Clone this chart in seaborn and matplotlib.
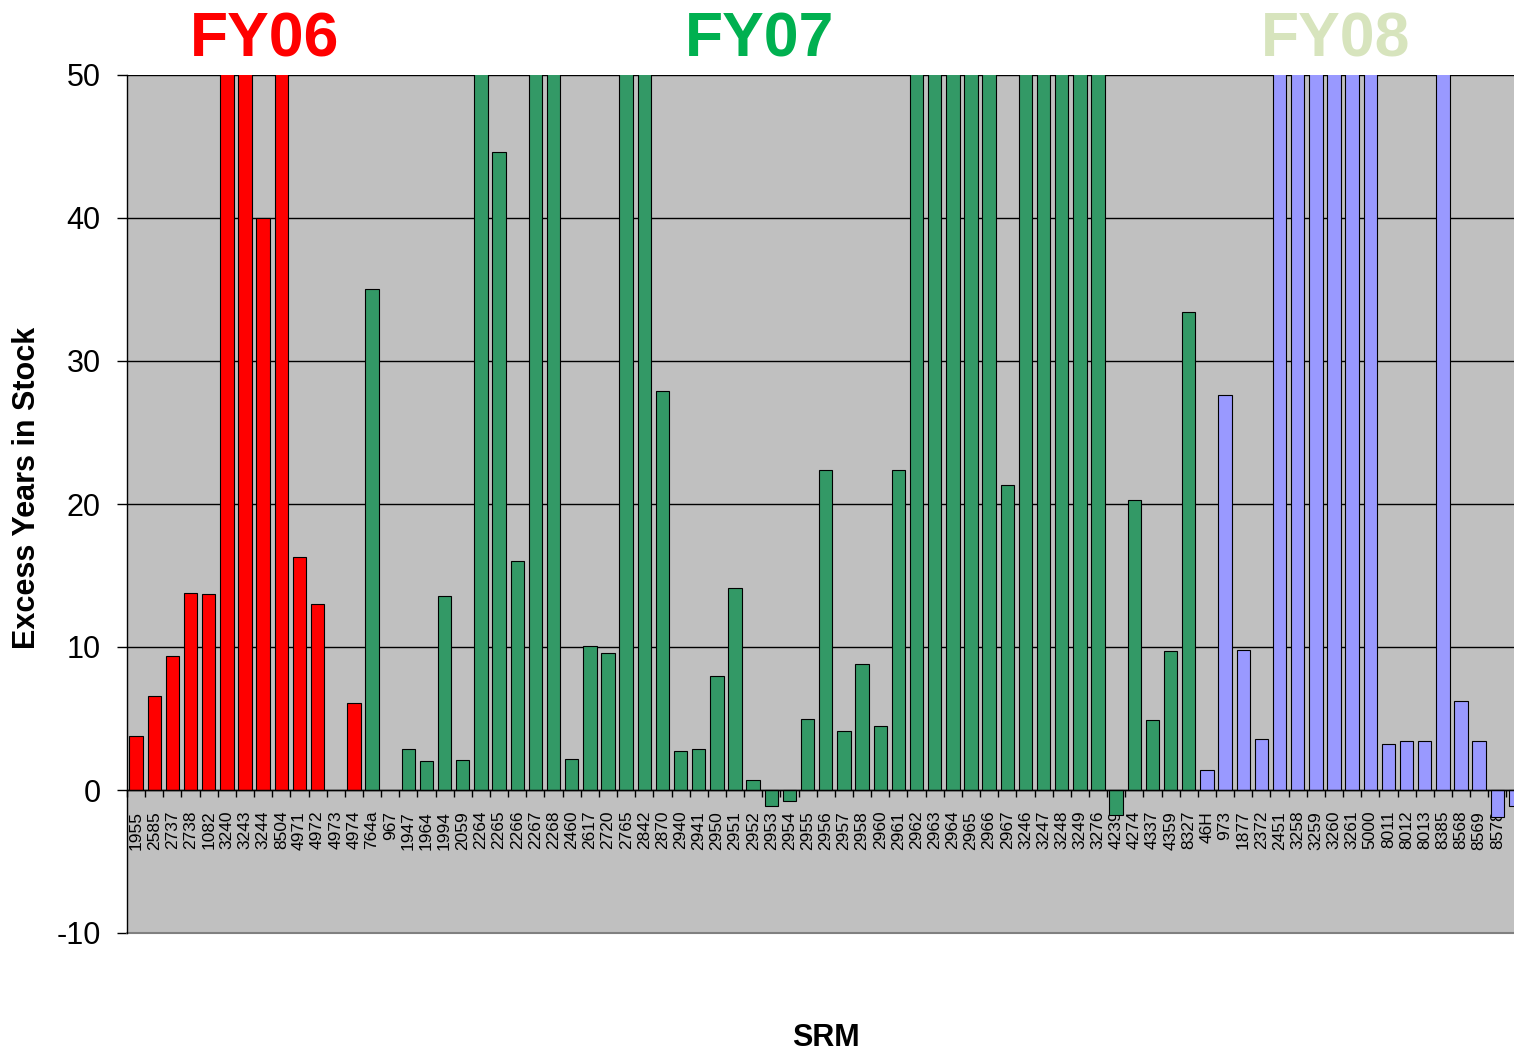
import numpy as np
import pandas as pd
import matplotlib
matplotlib.use("Agg")
import matplotlib.pyplot as plt
import seaborn as sns

sns.set_theme(style="white")
plt.rcParams['font.family'] = ['Liberation Sans', 'DejaVu Sans']
plt.rcParams['axes.unicode_minus'] = False
plt.rcParams['text.color'] = 'black'
plt.rcParams['axes.labelcolor'] = 'black'
plt.rcParams['xtick.color'] = 'black'
plt.rcParams['ytick.color'] = 'black'

# Values above 50 run off the top of the axis; 55 stands for "off scale".
fy06_srm = ["1955", "2585", "2737", "2738", "1082", "3240", "3243", "3244",
            "8504", "4971", "4972", "4973", "4974"]
fy06_val = [3.8, 6.6, 9.4, 13.8, 13.7, 55, 55, 40.0, 55, 16.3, 13.0, np.nan, 6.1]

fy07_srm = ["764a", "967", "1947", "1964", "1994", "2059", "2264", "2265", "2266",
            "2267", "2268", "2460", "2617", "2720", "2765", "2842", "2870", "2940",
            "2941", "2950", "2951", "2952", "2953", "2954", "2955", "2956", "2957",
            "2958", "2960", "2961", "2962", "2963", "2964", "2965", "2966", "2967",
            "3246", "3247", "3248", "3249", "3276", "4239", "4274", "4337", "4359",
            "8327"]
fy07_val = [35.0, np.nan, 2.9, 2.0, 13.6, 2.1, 55, 44.6, 16.0,
            55, 55, 2.2, 10.1, 9.6, 55, 55, 27.9, 2.7,
            2.9, 8.0, 14.1, 0.7, -1.1, -0.8, 5.0, 22.4, 4.1,
            8.8, 4.5, 22.4, 55, 55, 55, 55, 55, 21.3,
            55, 55, 55, 55, 55, -1.75, 20.3, 4.9, 9.7,
            33.4]

fy08_srm = ["46H", "973", "1877", "2372", "2451", "3258", "3259", "3260", "3261",
            "5000", "8011", "8012", "8013", "8385", "8568", "8569", "8578", "8579"]
fy08_val = [1.4, 27.6, 9.8, 3.6, 55, 55, 55, 55, 55,
            55, 3.2, 3.4, 3.4, 55, 6.2, 3.4, -1.9, -1.1]

year_labels = ["FY06", "FY07", "FY08"]
bar_colors = {"FY06": "#FF0000", "FY07": "#339966", "FY08": "#9999FF"}
title_colors = {"FY06": "#FF0000", "FY07": "#00B050", "FY08": "#D7E4BD"}

srm = fy06_srm + fy07_srm + fy08_srm
vals = fy06_val + fy07_val + fy08_val
grp = (["FY06"] * len(fy06_srm) + ["FY07"] * len(fy07_srm) + ["FY08"] * len(fy08_srm))
df = pd.DataFrame({"SRM": srm, "Years": vals, "FY": grp})

fig = plt.figure(figsize=(15.14, 10.52), dpi=100)
ax = fig.add_axes([127 / 1514, 119 / 1052, 1 - 127 / 1514, 858 / 1052])
ax.set_facecolor("#C0C0C0")

sns.barplot(data=df, x="SRM", y="Years", hue="FY", order=srm,
            palette=bar_colors, saturation=1, dodge=False, width=0.74,
            edgecolor="black", linewidth=0.8, legend=False, ax=ax, zorder=3)

ax.set_yticks(np.arange(-10, 51, 10))
ax.yaxis.grid(True, color="black", linewidth=1.0)
ax.set_axisbelow(True)
for gl in ax.get_ygridlines():
    gl.set_zorder(1)

# x-axis crossing at zero
ax.spines["bottom"].set_position(("data", 0))
ax.spines["bottom"].set_color("black")
ax.spines["bottom"].set_linewidth(1.0)
ax.spines["bottom"].set_zorder(4)
ax.spines["left"].set_color("black")
ax.spines["left"].set_linewidth(1.0)
ax.spines["top"].set_visible(False)
ax.spines["right"].set_visible(False)
ax.axhline(-10, color="#808080", linewidth=1.5, clip_on=False, zorder=2)

ax.set_xticks(np.arange(len(srm)))
ax.set_xticklabels(srm, rotation=90, fontsize=12.5)
ax.set_xticks(np.arange(-0.5, len(srm), 1), minor=True)
ax.tick_params(axis="x", which="major", length=0, pad=15)
ax.tick_params(axis="x", which="minor", length=5, width=1, color="black",
               direction="out", bottom=True)
ax.tick_params(axis="y", which="major", length=7, width=1, color="black",
               direction="out", left=True, labelsize=22, pad=12)

# the category axis runs past the right edge of the figure
n_visible = (1514 - 127) / 18.15
ax.set_xlim(-0.5, n_visible - 0.5)
ax.set_ylim(-10, 50)

ax.set_xlabel("SRM", fontsize=22, fontweight="bold")
ax.xaxis.label.set_va("center")
ax.xaxis.set_label_coords((826 - 127) / 1387, (933 - 1038) / 858)
ax.set_ylabel("Excess Years in Stock", fontsize=22, fontweight="bold")
ax.yaxis.label.set_va("center")
ax.yaxis.set_label_coords((27 - 127) / 1387, (933 - 488) / 858)

for lab, cx in zip(year_labels, [265, 760, 1336]):
    fig.text(cx / 1514, 1 - 40 / 1052, lab, ha="center", va="center",
             fontsize=45, fontweight="bold", color=title_colors[lab])

fig.savefig("out.png", dpi=100, facecolor="white")
